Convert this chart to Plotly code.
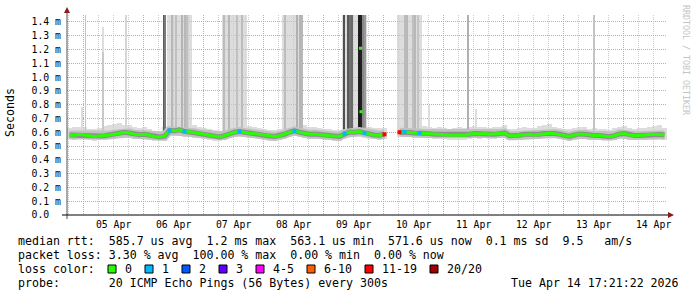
import plotly.graph_objects as go
from datetime import datetime, timedelta

# ---------------- data ----------------
END_TIME = datetime(2026, 4, 14, 17, 21, 22)
START_TIME = END_TIME - timedelta(days=10)
BUCKET_HOURS = 2

MEDIAN_MS = [
    0.580, 0.578, 0.585, 0.580, 0.575, 0.570, 0.573, 0.575, 0.580, 0.585,
    0.592, 0.600, 0.595, 0.585, 0.582, 0.585, 0.578, 0.568, 0.565, 0.572,
    0.612, 0.610, 0.618, 0.606, 0.604, 0.596, 0.590, 0.585, 0.578, 0.570,
    0.566, 0.575, 0.590, 0.600, 0.605, 0.598, 0.592, 0.590, 0.585, 0.578,
    0.572, 0.570, 0.575, 0.585, 0.600, 0.610, 0.600, 0.590, 0.585, 0.588,
    0.582, 0.578, 0.575, 0.572, 0.570, 0.590, 0.602, 0.600, 0.605, 0.595,
    0.585, 0.580, 0.578, 0.585, None, None, 0.600, 0.602, 0.598, 0.595,
    0.595, 0.590, 0.590, 0.585, 0.585, 0.582, 0.580, 0.578, 0.580, 0.578,
    0.585, 0.590, 0.588, 0.590, 0.585, 0.585, 0.590, 0.595, 0.575, 0.575,
    0.578, 0.585, 0.585, 0.580, 0.585, 0.590, 0.592, 0.590, 0.585, 0.575,
    0.570, 0.580, 0.588, 0.585, 0.578, 0.576, 0.576, 0.572, 0.568, 0.575,
    0.588, 0.590, 0.580, 0.576, 0.576, 0.578, 0.585, 0.586, 0.584, 0.580,
]

SMOKE_LO_MS = [
    0.548, 0.546, 0.550, 0.548, 0.543, 0.540, 0.542, 0.545, 0.548, 0.552,
    0.556, 0.562, 0.558, 0.552, 0.548, 0.550, 0.545, 0.538, 0.535, 0.540,
    0.570, 0.572, 0.575, 0.568, 0.565, 0.560, 0.556, 0.552, 0.546, 0.540,
    0.536, 0.542, 0.555, 0.565, 0.568, 0.562, 0.558, 0.556, 0.552, 0.546,
    0.540, 0.538, 0.542, 0.550, 0.562, 0.570, 0.565, 0.556, 0.552, 0.554,
    0.550, 0.546, 0.543, 0.540, 0.538, 0.552, 0.565, 0.563, 0.568, 0.560,
    0.552, 0.548, 0.546, 0.550, None, None, 0.565, 0.566, 0.562, 0.560,
    0.560, 0.556, 0.555, 0.552, 0.552, 0.549, 0.547, 0.545, 0.547, 0.545,
    0.552, 0.556, 0.554, 0.556, 0.552, 0.552, 0.556, 0.560, 0.542, 0.542,
    0.545, 0.552, 0.552, 0.548, 0.552, 0.556, 0.558, 0.556, 0.552, 0.542,
    0.538, 0.547, 0.554, 0.552, 0.545, 0.543, 0.543, 0.540, 0.536, 0.542,
    0.554, 0.556, 0.547, 0.543, 0.543, 0.545, 0.552, 0.553, 0.551, 0.547,
]

SMOKE_HI_MS = [
    0.630, 0.635, 0.640, 0.640, 0.625, 0.620, 0.630, 0.645, 0.650, 0.660,
    0.665, 0.655, 0.650, 0.640, 0.630, 0.635, 0.625, 0.610, 0.610, 0.640,
    1.500, 1.500, 1.500, 1.500, 1.500, 0.650, 0.640, 0.630, 0.620, 0.612,
    0.610, 1.500, 1.500, 1.500, 1.500, 1.500, 0.645, 0.640, 0.630, 0.622,
    0.615, 0.618, 0.625, 1.500, 1.500, 1.500, 1.500, 0.650, 0.640, 0.640,
    0.632, 0.625, 0.620, 0.615, 0.618, 1.500, 1.500, 1.500, 1.500, 1.500,
    0.640, 0.632, 0.628, 0.630, None, None, 1.500, 1.500, 1.500, 1.500,
    1.500, 0.645, 0.640, 0.632, 0.635, 0.628, 0.625, 0.630, 0.635, 0.628,
    0.640, 0.645, 0.635, 0.640, 0.632, 0.635, 0.640, 0.650, 0.625, 0.620,
    0.628, 0.640, 0.632, 0.630, 0.645, 0.650, 0.660, 0.640, 0.630, 0.622,
    0.620, 0.630, 0.640, 0.635, 0.625, 0.630, 0.625, 0.620, 0.618, 0.628,
    0.640, 0.645, 0.630, 0.625, 0.628, 0.632, 0.640, 0.645, 0.650, 0.630,
]

# pings lost (of 20) in buckets where loss was seen
LOSS_BUCKETS = [20, 23, 34, 45, 55, 59, 63, 66, 67, 70]
LOSS_COUNTS = [1, 1, 1, 1, 1, 1, 15, 12, 1, 1]

# individual slow pings (hours since start, rtt in ms, smoke shade)
SPIKE_HOURS = [6.0, 7.4, 14.4, 14.4, 23.6,
               38.8, 39.2, 42.0, 43.6, 46.0, 47.2, 48.0,
               62.8, 64.8, 68.0, 70.0,
               87.2, 92.0, 93.2, 94.0,
               110.8, 112.4, 113.2, 114.0, 116.8, 117.2, 117.6, 118.4, 119.2,
               135.2, 136.0, 138.4, 139.2, 140.4,
               144.8, 160.4, 163.6, 210.8]
SPIKE_TOP_MS = [0.78, 1.5, 1.36, 1.18, 1.5,
                1.5, 1.5, 1.5, 1.5, 1.5, 1.5, 1.5,
                1.5, 1.5, 1.5, 1.5,
                1.5, 1.5, 1.5, 1.5,
                1.5, 1.5, 1.5, 1.5, 1.5, 1.5, 1.5, 1.5, 1.5,
                1.5, 1.5, 1.5, 1.5, 1.5,
                0.80, 1.5, 0.77, 1.5]
SPIKE_SHADE = ["#dcdcdc", "#c4c4c4", "#dedede", "#c8c8c8", "#d6d6d6",
               "#5a5a5a", "#7a7a7a", "#b8b8b8", "#c0c0c0", "#b4b4b4", "#b8b8b8", "#c0c0c0",
               "#bcbcbc", "#b8b8b8", "#c0c0c0", "#bcbcbc",
               "#bcbcbc", "#b0b0b0", "#b4b4b4", "#b8b8b8",
               "#505050", "#585858", "#707070", "#6a6a6a", "#202020", "#1a1a1a", "#202020", "#888888", "#999999",
               "#bcbcbc", "#b8b8b8", "#c0c0c0", "#b8b8b8", "#c4c4c4",
               "#dddddd", "#b0b0b0", "#dddddd", "#c4c4c4"]

MEDIAN_OUTLIER_HOURS = [117.4, 117.6]
MEDIAN_OUTLIER_MS = [1.209, 0.749]

Y_TICKS = [0.0, 0.1, 0.2, 0.3, 0.4, 0.5, 0.6, 0.7, 0.8, 0.9, 1.0, 1.1, 1.2, 1.3, 1.4]
Y_TICK_LABELS = ["0.0  ", "0.1 m", "0.2 m", "0.3 m", "0.4 m", "0.5 m", "0.6 m", "0.7 m",
                 "0.8 m", "0.9 m", "1.0 m", "1.1 m", "1.2 m", "1.3 m", "1.4 m"]

LOSS_LEGEND_LABELS = ["0", "1", "2", "3", "4-5", "6-10", "11-19", "20/20"]
LOSS_LEGEND_COLORS = ["#26ff00", "#00b8ff", "#0059ff", "#5e00ff", "#ff00fe", "#ff5e00", "#ff0000", "#a10000"]
LOSS_LEGEND_MAX = [0, 1, 2, 3, 5, 10, 19, 20]

STATS_LINES = [
    "median rtt:  585.7 us avg  1.2 ms max  563.1 us min  571.6 us now  0.1 ms sd  9.5   am/s",
    "packet loss: 3.30 % avg  100.00 % max  0.00 % min  0.00 % now",
]
LOSS_TITLE = "loss color:"
PROBE_LINE = "probe:       20 ICMP Echo Pings (56 Bytes) every 300s"
STAMP = "Tue Apr 14 17:21:22 2026"
WATERMARK = "RRDTOOL / TOBI OETIKER"

# ---------------- geometry helpers ----------------
W, H = 697, 297
L, R, T, B = 67, 667, 15, 215
FONT = "DejaVu Sans Mono"


def px(x):
    return (x - L) / (R - L)


def py(y):
    return (B - y) / (B - T)


def nb(s):
    return s.replace(" ", "\u00a0")


def loss_color(n):
    for mx, c in zip(LOSS_LEGEND_MAX, LOSS_LEGEND_COLORS):
        if n <= mx:
            return c
    return LOSS_LEGEND_COLORS[-1]


def t_at(hours):
    return START_TIME + timedelta(hours=hours)


centers = [t_at((i + 0.5) * BUCKET_HOURS) for i in range(len(MEDIAN_MS))]
BUCKET_MS = BUCKET_HOURS * 3600 * 1000
PIXEL_MS = 10 * 86400 * 1000 / (R - L)

fig = go.Figure()

# light smoke band
sx, sb, sy = [], [], []
for c, lo, hi in zip(centers, SMOKE_LO_MS, SMOKE_HI_MS):
    if lo is None or hi is None:
        continue
    sx.append(c)
    sb.append(lo)
    sy.append(hi - lo)
fig.add_trace(go.Bar(x=sx, y=sy, base=sb, width=BUCKET_MS,
                     marker=dict(color="rgba(200,200,200,0.62)", line=dict(width=0)),
                     hoverinfo="skip"))

# single slow pings
spx, spb, spy = [], [], []
for h, top in zip(SPIKE_HOURS, SPIKE_TOP_MS):
    m = MEDIAN_MS[int(h // BUCKET_HOURS)]
    base = m if m is not None else 0.6
    spx.append(t_at(h))
    spb.append(base)
    spy.append(top - base)
fig.add_trace(go.Bar(x=spx, y=spy, base=spb, width=PIXEL_MS * 1.0,
                     marker=dict(color=SPIKE_SHADE, line=dict(width=0)),
                     hoverinfo="skip"))

# inner smoke around median
fig.add_trace(go.Scatter(x=centers, y=MEDIAN_MS, mode="lines",
                         line=dict(color="#c2c2c2", width=9), connectgaps=False, hoverinfo="skip"))
fig.add_trace(go.Scatter(x=centers, y=MEDIAN_MS, mode="lines",
                         line=dict(color="#8e8e8e", width=5), connectgaps=False, hoverinfo="skip"))
# median line
fig.add_trace(go.Scatter(x=centers, y=MEDIAN_MS, mode="lines",
                         line=dict(color=LOSS_LEGEND_COLORS[0], width=3), connectgaps=False,
                         hoverinfo="skip"))
# loss coloured median points
fig.add_trace(go.Scatter(x=[centers[i] for i in LOSS_BUCKETS],
                         y=[MEDIAN_MS[i] for i in LOSS_BUCKETS], mode="markers",
                         marker=dict(symbol="square", size=4,
                                     color=[loss_color(n) for n in LOSS_COUNTS], line=dict(width=0)),
                         hoverinfo="skip"))
fig.add_trace(go.Scatter(x=[t_at(h) for h in MEDIAN_OUTLIER_HOURS], y=MEDIAN_OUTLIER_MS,
                         mode="markers",
                         marker=dict(symbol="square", size=3, color=LOSS_LEGEND_COLORS[0], line=dict(width=0)),
                         hoverinfo="skip"))

# ---------------- layout ----------------
shapes = []
# axis lines
shapes.append(dict(type="line", xref="paper", yref="paper", x0=0, x1=0,
                   y0=py(219), y1=py(12), line=dict(color="#505050", width=1)))
shapes.append(dict(type="line", xref="paper", yref="paper", x0=px(62), x1=px(669),
                   y0=0, y1=0, line=dict(color="#000000", width=1)))
# arrows
shapes.append(dict(type="path", xref="paper", yref="paper",
                   path=f"M {px(64)} {py(13)} L {px(67)} {py(7)} L {px(70)} {py(13)} Z",
                   fillcolor="#8b1a1a", line=dict(color="#8b1a1a", width=0)))
shapes.append(dict(type="path", xref="paper", yref="paper",
                   path=f"M {px(668)} {py(212)} L {px(674)} {py(215)} L {px(668)} {py(218)} Z",
                   fillcolor="#8b1a1a", line=dict(color="#8b1a1a", width=0)))

annotations = []
CH = 7.0  # character cell width in px
row_y = [241, 255]
for txt, y in zip(STATS_LINES, row_y):
    annotations.append(dict(text=nb(txt), x=px(16), y=py(y), xref="paper", yref="paper",
                            xanchor="left", yanchor="middle", showarrow=False,
                            font=dict(family=FONT, size=11.6, color="#000")))
annotations.append(dict(text=nb(LOSS_TITLE), x=px(16), y=py(269), xref="paper", yref="paper",
                        xanchor="left", yanchor="middle", showarrow=False,
                        font=dict(family=FONT, size=11.6, color="#000")))
bx = 108
for lab, col in zip(LOSS_LEGEND_LABELS, LOSS_LEGEND_COLORS):
    shapes.append(dict(type="rect", xref="paper", yref="paper",
                       x0=px(bx), x1=px(bx + 8), y0=py(273), y1=py(265),
                       fillcolor=col, line=dict(color="#000", width=1)))
    lx = bx + 15
    annotations.append(dict(text=nb(lab), x=px(lx), y=py(269), xref="paper", yref="paper",
                            xanchor="left", yanchor="middle", showarrow=False,
                            font=dict(family=FONT, size=11.6, color="#000")))
    bx = lx + len(lab) * CH + 15
annotations.append(dict(text=nb(PROBE_LINE), x=px(16), y=py(283), xref="paper", yref="paper",
                        xanchor="left", yanchor="middle", showarrow=False,
                        font=dict(family=FONT, size=11.6, color="#000")))
annotations.append(dict(text=nb(STAMP), x=px(681), y=py(283), xref="paper", yref="paper",
                        xanchor="right", yanchor="middle", showarrow=False,
                        font=dict(family=FONT, size=11.6, color="#000")))
annotations.append(dict(text="Seconds", x=px(10), y=py(113), xref="paper", yref="paper",
                        xanchor="center", yanchor="middle", textangle=-90, showarrow=False,
                        font=dict(family=FONT, size=11.6, color="#000")))
annotations.append(dict(text=nb(WATERMARK), x=px(686), y=py(60), xref="paper", yref="paper",
                        xanchor="center", yanchor="middle", textangle=90, showarrow=False,
                        font=dict(family=FONT, size=8.3, color="#c4c4c4")))

fig.update_layout(
    width=W, height=H,
    margin=dict(l=L, r=W - R, t=T, b=H - B, pad=0),
    paper_bgcolor="#ffffff", plot_bgcolor="#ffffff",
    barmode="overlay", bargap=0, showlegend=False,
    shapes=shapes, annotations=annotations,
    xaxis=dict(type="date", range=[START_TIME, END_TIME],
               tick0="2026-04-05 00:00:00", dtick=86400000, tickformat="%d %b",
               ticklabelmode="period", ticks="", showline=False, zeroline=False,
               showgrid=True, gridcolor="#e89a9a", griddash="1px,1px", gridwidth=1,
               tickfont=dict(family=FONT, size=9.8, color="#000"), ticklabelstandoff=2,
               minor=dict(dtick=6 * 3600 * 1000, tick0="2026-04-05 00:00:00", showgrid=True,
                          gridcolor="#cccccc", griddash="1px,1px", gridwidth=1, ticks=""),
               fixedrange=True),
    yaxis=dict(range=[0, 1.45], tickvals=Y_TICKS, ticktext=[nb(t) for t in Y_TICK_LABELS],
               ticks="", showline=False, zeroline=False,
               showgrid=True, gridcolor="#e89a9a", griddash="1px,1px", gridwidth=1,
               tickfont=dict(family=FONT, size=9.8, color="#000"), ticklabelstandoff=5,
               fixedrange=True),
)

fig.write_html("out.html")
